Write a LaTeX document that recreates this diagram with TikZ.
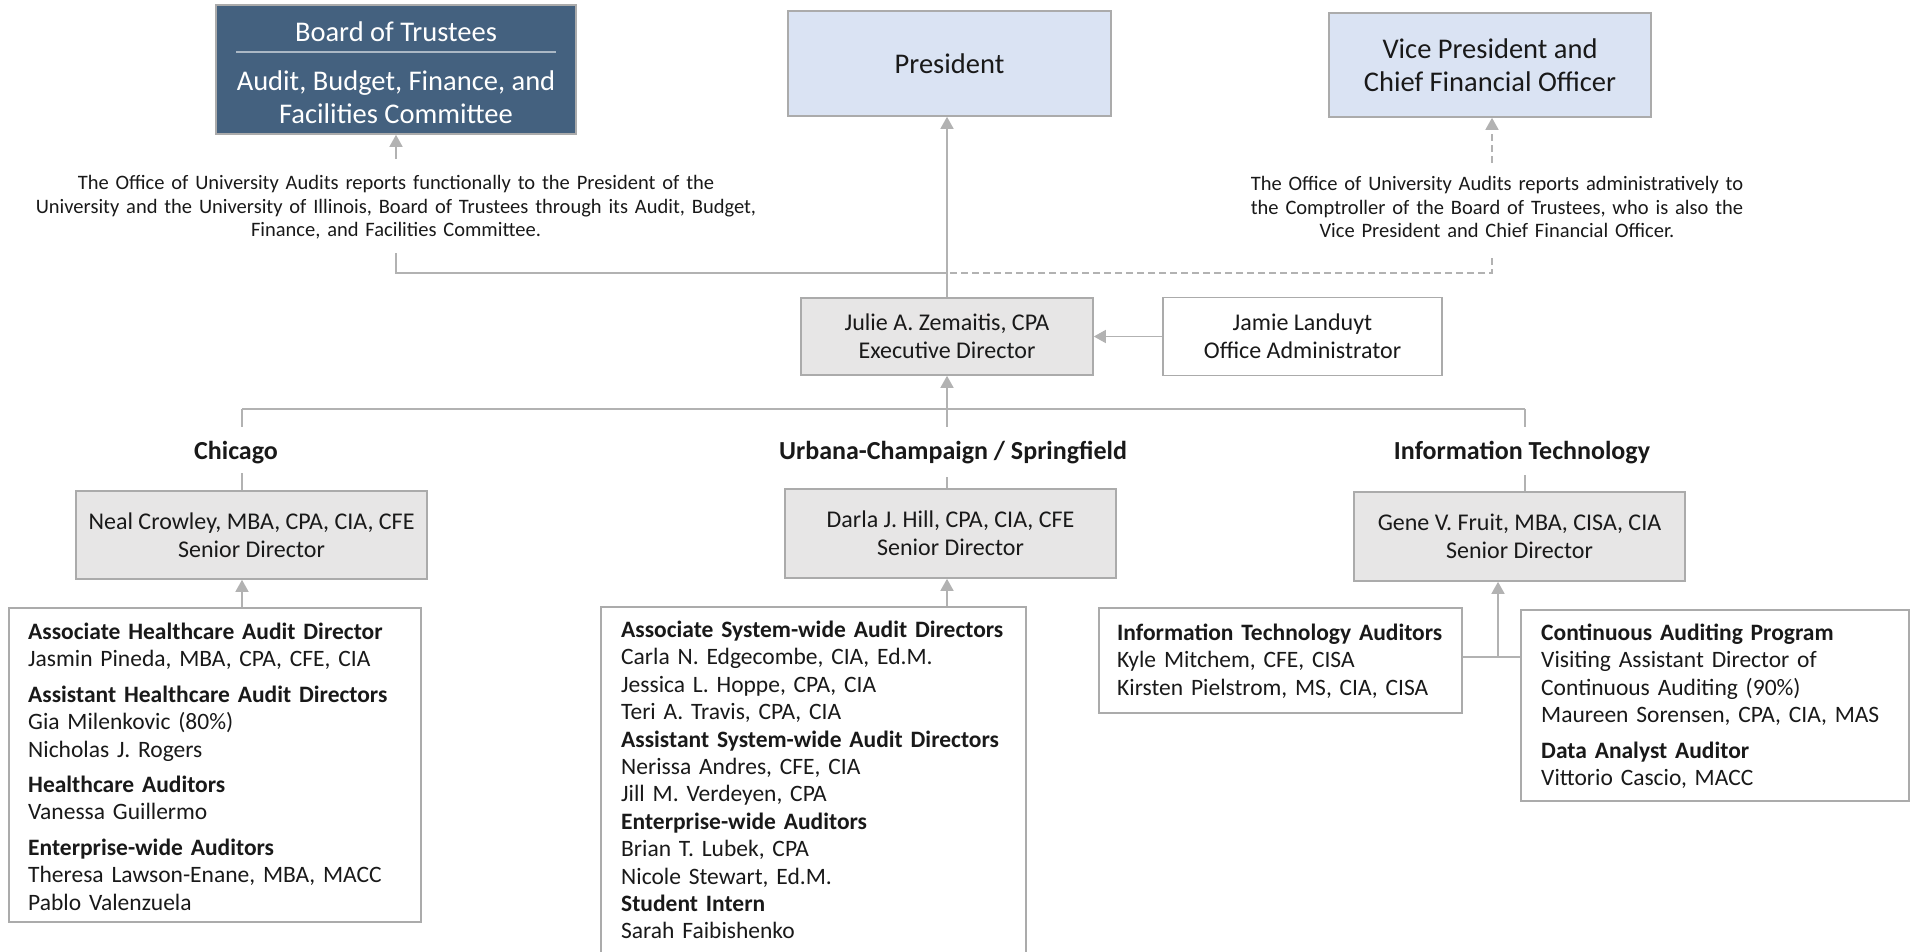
\documentclass[tikz,border=0pt]{standalone}
\usepackage{fontspec}
\setmainfont{Carlito}
\usetikzlibrary{arrows.meta}

\definecolor{trustblue}{HTML}{44617F}
\definecolor{paleblue}{HTML}{DAE3F3}
\definecolor{palegray}{HTML}{E7E6E6}
\definecolor{edgegray}{HTML}{ABABAB}
\definecolor{wiregray}{HTML}{B2B2B2}

\newcommand\titlesize{\fontsize{28.5}{32.5}\selectfont}
\newcommand\boxsize{\fontsize{24}{28}\selectfont}
\newcommand\listsize{\fontsize{23.5}{27.4}\selectfont}
\newcommand\notesize{\fontsize{20.5}{23.5}\selectfont}
\newcommand\headsize{\fontsize{26}{30}\selectfont\bfseries}

\tikzset{
  box/.style={draw=edgegray, line width=1.6pt, inner sep=0pt, align=center, text=black!90},
  topbox/.style={box, fill=paleblue, font=\titlesize},
  staffbox/.style={box, fill=palegray, font=\boxsize},
  plainbox/.style={box, fill=white, font=\boxsize},
  listframe/.style={box, fill=white},
  listtext/.style={inner sep=0pt, text width=400pt, align=left, font=\listsize, text=black!90},
  note/.style={inner sep=0pt, text width=760pt, align=center, font=\notesize, text=black!90},
  head/.style={inner sep=0pt, font=\headsize, text=black!90},
  wire/.style={draw=wiregray, line width=1.5pt},
  arr/.style={wire, -{Triangle[length=12pt,width=13pt]}},
  dashwire/.style={wire, dash pattern=on 7pt off 4pt}
}

\begin{document}
\begin{tikzpicture}[x=1pt,y=-1pt]
\useasboundingbox (0,0) rectangle (1915,951);

\node [box, fill=trustblue, minimum width=360pt, minimum height=129pt] (board) at (396,69.5) {};
\node [inner sep=0pt, font=\titlesize, text=white] (boardhead) at (396,32) {Board of Trustees};
\draw [white!55!trustblue, line width=1.2pt] (236,52) -- (556,52);
\node [inner sep=0pt, align=center, font=\titlesize, text=white] (boardcom) at (396,97) {Audit, Budget, Finance, and\\Facilities Committee};

\node [topbox, minimum width=323pt, minimum height=105pt] (pres) at (949.5,63.5) {President};
\node [topbox, minimum width=322pt, minimum height=104pt] (vp) at (1490,65) {Vice President and\\Chief Financial Officer};

\node [note, anchor=base] (funcnote) at (396,189.5) {The Office of University Audits reports functionally to the President of the\\University and the University of Illinois, Board of Trustees through its Audit, Budget,\\Finance, and Facilities Committee.};
\node [note, anchor=base] (adminnote) at (1497,190.5) {The Office of University Audits reports administratively to\\the Comptroller of the Board of Trustees, who is also the\\Vice President and Chief Financial Officer.};

\node [staffbox, minimum width=292pt, minimum height=77pt] (julie) at (947,336.5) {Julie A. Zemaitis, CPA\\Executive Director};
\node [plainbox, minimum width=279pt, minimum height=78pt] (jamie) at (1302.5,336.5) {Jamie Landuyt\\Office Administrator};

\coordinate (boardtail) at (396,159);
\coordinate (vptail) at (1492,163);
\coordinate (lbr) at (396,253);
\coordinate (rbr) at (1492,258);
\coordinate (junc) at (947,273);

\draw [arr] (boardtail) -- (board.south);
\draw [dashwire, -{Triangle[length=12pt,width=13pt]}] (vptail) -- (vptail |- vp.south);
\draw [wire] (lbr) |- (junc);
\draw [dashwire] (rbr) |- (junc);
\draw [arr] (julie.north) -- (julie.north |- pres.south);
\draw [arr] (jamie.west) -- (julie.east);

\node [head] (hdchi) at (236,453) {Chicago};
\node [head] (hduc) at (953,453) {Urbana-Champaign / Springfield};
\node [head] (hdit) at (1522,453) {Information Technology};

\node [staffbox, minimum width=351pt, minimum height=88pt] (chisd) at (251.5,535) {Neal Crowley, MBA, CPA, CIA, CFE\\Senior Director};
\node [staffbox, minimum width=331pt, minimum height=89pt] (ucsd) at (950.5,533.5) {Darla J. Hill, CPA, CIA, CFE\\Senior Director};
\node [staffbox, minimum width=331pt, minimum height=89pt] (itsd) at (1519.5,536.5) {Gene V. Fruit, MBA, CISA, CIA\\Senior Director};

\coordinate (treel) at (242,409);
\coordinate (treem) at (947,409);
\coordinate (treer) at (1525,409);

\draw [wire] (treel) -- (treer);
\draw [arr] (treem) -- (julie.south);
\draw [wire] (treel) -- ++(0,18);
\draw [wire] (treem) -- ++(0,18);
\draw [wire] (treer) -- ++(0,18);
\draw [wire] (chisd.north -| treel) -- ++(0,-17);
\draw [wire] (ucsd.north -| treem) -- ++(0,-11);
\draw [wire] (itsd.north -| treer) -- ++(0,-16);

\node [listframe, minimum width=412pt, minimum height=314pt] (chilist) at (215,765) {};
\node [listframe, minimum width=425pt, minimum height=353pt] (uclist) at (813.5,783.5) {};
\node [listframe, minimum width=363pt, minimum height=105pt] (itlist) at (1280.5,660.5) {};
\node [listframe, minimum width=388pt, minimum height=191pt] (contlist) at (1715,705.5) {};

\node [listtext, anchor=base west] (chitext) at (28,639.5) {\textbf{Associate Healthcare Audit Director}\\Jasmin Pineda, MBA, CPA, CFE, CIA\\[8pt]\textbf{Assistant Healthcare Audit Directors}\\Gia Milenkovic (80\%)\\Nicholas J. Rogers\\[8pt]\textbf{Healthcare Auditors}\\Vanessa Guillermo\\[8pt]\textbf{Enterprise-wide Auditors}\\Theresa Lawson-Enane, MBA, MACC\\Pablo Valenzuela};
\node [listtext, anchor=base west] (uctext) at (621,637.5) {\textbf{Associate System-wide Audit Directors}\\Carla N. Edgecombe, CIA, Ed.M.\\Jessica L. Hoppe, CPA, CIA\\Teri A. Travis, CPA, CIA\\\textbf{Assistant System-wide Audit Directors}\\Nerissa Andres, CFE, CIA\\Jill M. Verdeyen, CPA\\\textbf{Enterprise-wide Auditors}\\Brian T. Lubek, CPA\\Nicole Stewart, Ed.M.\\\textbf{Student Intern}\\Sarah Faibishenko};
\node [listtext, anchor=base west] (ittext) at (1117,640.5) {\textbf{Information Technology Auditors}\\Kyle Mitchem, CFE, CISA\\Kirsten Pielstrom, MS, CIA, CISA};
\node [listtext, anchor=base west] (conttext) at (1541,640.5) {\textbf{Continuous Auditing Program}\\Visiting Assistant Director of\\Continuous Auditing (90\%)\\Maureen Sorensen, CPA, CIA, MAS\\[8pt]\textbf{Data Analyst Auditor}\\Vittorio Cascio, MACC};

\coordinate (itjoin) at (1498,657);

\draw [arr] (chilist.north -| treel) -- (chisd.south -| treel);
\draw [arr] (uclist.north -| treem) -- (ucsd.south -| treem);
\draw [wire] (itlist.east |- itjoin) -- (contlist.west |- itjoin);
\draw [arr] (itjoin) -- (itjoin |- itsd.south);
\end{tikzpicture}
\end{document}
